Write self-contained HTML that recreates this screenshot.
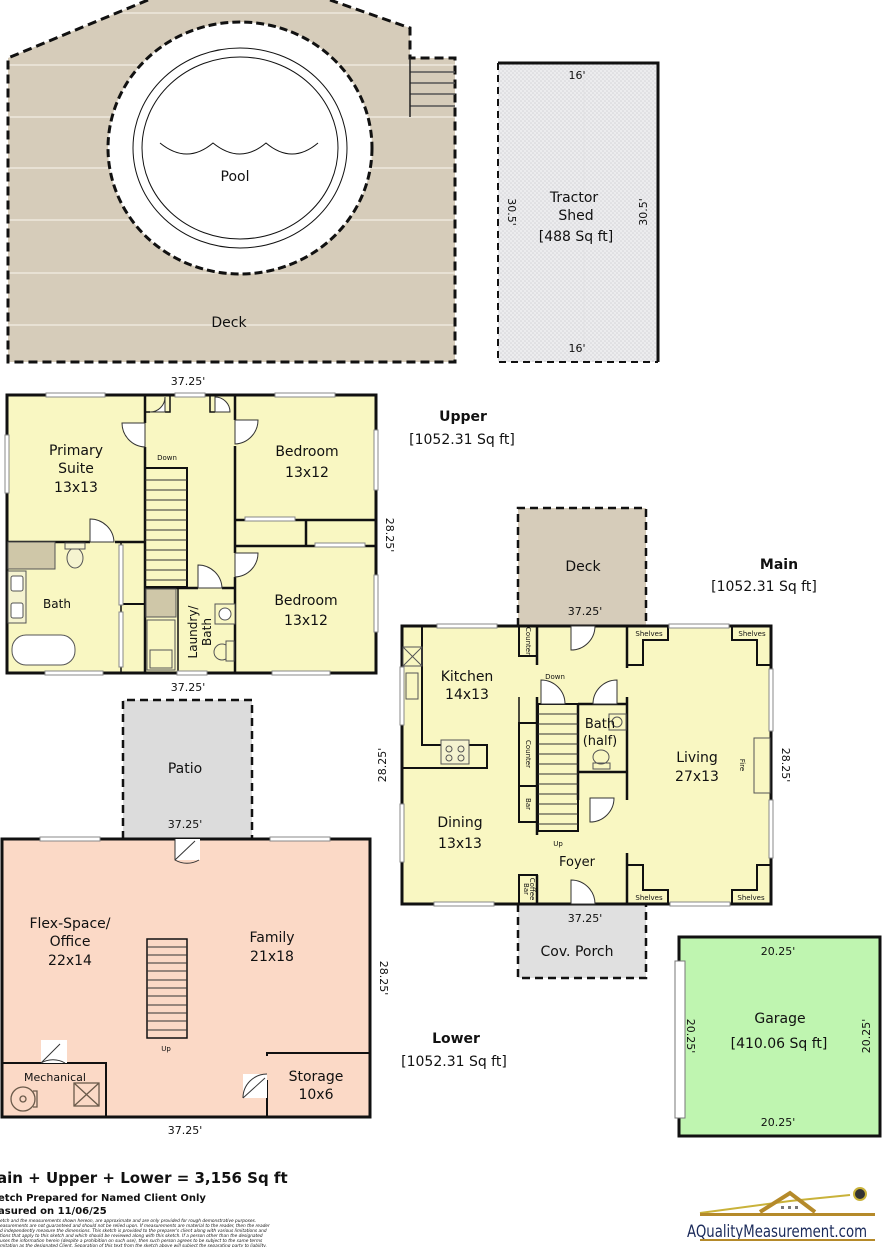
<!DOCTYPE html>
<html><head><meta charset="utf-8"><style>
html,body{margin:0;padding:0;background:#fff;}
svg{display:block;}
text{font-family:"DejaVu Sans","Liberation Sans",sans-serif;fill:#111;}
</style></head><body>
<svg width="882" height="1247" viewBox="0 0 882 1247" xmlns="http://www.w3.org/2000/svg">
<defs>
<pattern id="dots" width="4" height="4" patternUnits="userSpaceOnUse"><rect width="4" height="4" fill="#ececee"/><circle cx="1" cy="1" r="0.8" fill="#d4d4d8"/><circle cx="3" cy="3" r="0.8" fill="#d4d4d8"/></pattern>
<clipPath id="deckclip"><path d="M8,58 L148,0 L330,0 L410,28 L410,58 L455,58 L455,362 L8,362 Z"/></clipPath>
</defs>

<!-- POOL DECK -->
<path d="M8,58 L148,0 L330,0 L410,28 L410,58 L455,58 L455,362 L8,362 Z" fill="#d6ccba"/>
<g stroke="#eee8dc" stroke-width="1.5" clip-path="url(#deckclip)">
<line x1="8" y1="13" x2="455" y2="13"/><line x1="8" y1="65" x2="455" y2="65"/><line x1="8" y1="117" x2="455" y2="117"/><line x1="8" y1="168" x2="455" y2="168"/><line x1="8" y1="220" x2="455" y2="220"/><line x1="8" y1="273" x2="455" y2="273"/><line x1="8" y1="325" x2="455" y2="325"/>
</g>
<path d="M148,0 L8,58 L8,362 L455,362 L455,58 L410,58 L410,28 L330,0" fill="none" stroke="#111" stroke-width="3" stroke-dasharray="9,5"/>
<g stroke="#555" stroke-width="1.5"><line x1="410" y1="72" x2="455" y2="72"/><line x1="410" y1="83" x2="455" y2="83"/><line x1="410" y1="94" x2="455" y2="94"/><line x1="410" y1="106" x2="455" y2="106"/></g>
<line x1="410" y1="58" x2="410" y2="117" stroke="#222" stroke-width="1.5"/>
<ellipse cx="240" cy="148" rx="132" ry="126" fill="#fff" stroke="#111" stroke-width="3" stroke-dasharray="8,4"/>
<ellipse cx="240" cy="148" rx="107" ry="100" fill="none" stroke="#111" stroke-width="1"/>
<ellipse cx="240" cy="148" rx="98" ry="91" fill="none" stroke="#111" stroke-width="1"/>
<path d="M160,143 Q187,165 213,143 Q240,165 266,143 Q292,165 318,143" fill="none" stroke="#111" stroke-width="1"/>
<text x="235" y="181" font-size="14" text-anchor="middle">Pool</text>
<text x="229" y="327" font-size="14" text-anchor="middle">Deck</text>

<!-- TRACTOR SHED -->
<rect x="498" y="63" width="160" height="299" fill="url(#dots)"/>
<line x1="584" y1="63" x2="584" y2="362" stroke="#e4e4e6" stroke-width="1"/>
<path d="M498,63 L658,63 L658,362" fill="none" stroke="#111" stroke-width="3"/>
<path d="M498,63 L498,362 L658,362" fill="none" stroke="#111" stroke-width="2" stroke-dasharray="7,5"/>
<text x="577" y="79" font-size="11" text-anchor="middle">16'</text>
<text x="577" y="352" font-size="11" text-anchor="middle">16'</text>
<text x="574" y="202" font-size="14" text-anchor="middle">Tractor</text>
<text x="576" y="220" font-size="14" text-anchor="middle">Shed</text>
<text x="576" y="241" font-size="14" text-anchor="middle">[488 Sq ft]</text>
<text transform="translate(508,212) rotate(90)" font-size="11" text-anchor="middle">30.5'</text>
<text transform="translate(647,212) rotate(-90)" font-size="11" text-anchor="middle">30.5'</text>

<!-- UPPER -->
<rect x="7" y="395" width="369" height="278" fill="#f9f7c2"/>
<g stroke="#111" stroke-width="2.5" fill="none">
<rect x="7" y="395" width="369" height="278" stroke-width="3"/>
<line x1="145" y1="395" x2="145" y2="423"/><line x1="145" y1="447" x2="145" y2="673"/>
<line x1="235" y1="395" x2="235" y2="420"/><line x1="235" y1="446" x2="235" y2="553"/><line x1="235" y1="577" x2="235" y2="673"/>
<line x1="7" y1="542" x2="90" y2="542"/><line x1="115" y1="542" x2="145" y2="542"/>
<line x1="121" y1="542" x2="121" y2="673" stroke-width="1.5"/>
<line x1="121" y1="604" x2="145" y2="604" stroke-width="2"/>
<line x1="145" y1="588" x2="198" y2="588"/><line x1="222" y1="588" x2="235" y2="588"/>
<line x1="178" y1="588" x2="178" y2="673" stroke-width="1.5"/>
<line x1="235" y1="520" x2="376" y2="520"/><line x1="235" y1="546" x2="376" y2="546"/>
<line x1="306" y1="520" x2="306" y2="546"/>
<rect x="145" y="468" width="42" height="119" stroke-width="2"/>
<path d="M145,412 L150,412 M165,412 L170,412 L170,395" stroke-width="1.5"/>
<path d="M210,395 L210,412 L215,412" stroke-width="1.5"/>
</g>
<g stroke="#333" stroke-width="1">
<line x1="145" y1="480" x2="187" y2="480"/><line x1="145" y1="490" x2="187" y2="490"/><line x1="145" y1="500" x2="187" y2="500"/><line x1="145" y1="510" x2="187" y2="510"/><line x1="145" y1="520" x2="187" y2="520"/><line x1="145" y1="530" x2="187" y2="530"/><line x1="145" y1="540" x2="187" y2="540"/><line x1="145" y1="550" x2="187" y2="550"/><line x1="145" y1="560" x2="187" y2="560"/><line x1="145" y1="570" x2="187" y2="570"/><line x1="145" y1="580" x2="187" y2="580"/>
</g>
<g fill="#fff" stroke="#888" stroke-width="1">
<rect x="46" y="393" width="59" height="4"/><rect x="175" y="393" width="30" height="4"/><rect x="275" y="393" width="60" height="4"/>
<rect x="45" y="671" width="58" height="4"/><rect x="177" y="671" width="30" height="4"/><rect x="272" y="671" width="58" height="4"/>
<rect x="5" y="435" width="4" height="58"/><rect x="374" y="430" width="4" height="60"/><rect x="374" y="575" width="4" height="57"/>
<rect x="245" y="517" width="50" height="4"/><rect x="315" y="543" width="50" height="4"/>
<rect x="119" y="545" width="4" height="60"/><rect x="119" y="612" width="4" height="55"/>
</g>
<g fill="#fff" stroke="#333" stroke-width="1">
<path d="M145,423 L122,423 L122,423 A24,24 0 0 0 145,447 Z"/>
<path d="M90,542 L90,519 A24,24 0 0 1 114,542 Z"/>
<path d="M235,420 L258,420 A24,24 0 0 1 235,444 Z"/>
<path d="M235,553 L258,553 A24,24 0 0 1 235,577 Z"/>
<path d="M198,588 L198,565 A24,24 0 0 1 222,588 Z"/>
<path d="M165,412 L165,397 A15,15 0 0 1 150,412 Z"/>
<path d="M215,412 L215,397 A15,15 0 0 1 230,412 Z"/>
</g>
<g stroke="#555" stroke-width="1" fill="#fff">
<rect x="8" y="542" width="47" height="27" fill="#cfc7a8"/>
<rect x="8" y="571" width="18" height="52" fill="#f5f3d0"/><rect x="11" y="576" width="12" height="15" rx="2"/><rect x="11" y="603" width="12" height="15" rx="2"/>
<rect x="12" y="635" width="63" height="30" rx="14"/>
<ellipse cx="75" cy="558" rx="8" ry="10" fill="#f5f3d0"/><rect x="65" y="543" width="20" height="6" fill="#f5f3d0"/>
<rect x="146" y="589" width="30" height="28" fill="#cfc7a8"/>
<rect x="147" y="620" width="28" height="50" fill="#f9f7c2"/><rect x="150" y="650" width="22" height="18" fill="#f9f7c2"/>
<rect x="215" y="604" width="20" height="20" fill="#f9f7c2"/><circle cx="225" cy="614" r="6"/>
<ellipse cx="222" cy="652" rx="8" ry="8" fill="#f9f7c2"/><rect x="226" y="641" width="8" height="20" fill="#f9f7c2"/>
</g>
<g font-size="14" text-anchor="middle">
<text x="76" y="455">Primary</text><text x="76" y="473">Suite</text><text x="76" y="492">13x13</text>
<text x="307" y="456">Bedroom</text><text x="307" y="477">13x12</text>
<text x="306" y="605">Bedroom</text><text x="306" y="625">13x12</text>
<text x="57" y="608" font-size="12">Bath</text>
</g>
<text x="167" y="460" font-size="7" text-anchor="middle">Down</text>
<text transform="translate(197,632) rotate(-90)" font-size="12" text-anchor="middle">Laundry/</text>
<text transform="translate(211,632) rotate(-90)" font-size="12" text-anchor="middle">Bath</text>
<text x="188" y="385" font-size="11" text-anchor="middle">37.25'</text>
<text x="188" y="691" font-size="11" text-anchor="middle">37.25'</text>
<text transform="translate(386,535) rotate(90)" font-size="11" text-anchor="middle">28.25'</text>
<text x="463" y="421" font-size="14" font-weight="bold" text-anchor="middle">Upper</text>
<text x="462" y="444" font-size="14" text-anchor="middle">[1052.31 Sq ft]</text>

<!-- MAIN: deck & porch -->
<rect x="518" y="508" width="128" height="118" fill="#d6ccba"/>
<path d="M518,626 L518,508 L646,508 L646,626" fill="none" stroke="#111" stroke-width="2.5" stroke-dasharray="8,5"/>
<text x="583" y="571" font-size="14" text-anchor="middle">Deck</text>
<text x="585" y="615" font-size="11" text-anchor="middle">37.25'</text>
<rect x="518" y="904" width="128" height="74" fill="#e0e0e0"/>
<path d="M518,904 L518,978 L646,978 L646,904" fill="none" stroke="#111" stroke-width="2.5" stroke-dasharray="8,5"/>
<text x="577" y="956" font-size="14" text-anchor="middle">Cov. Porch</text>
<text x="585" y="922" font-size="11" text-anchor="middle">37.25'</text>

<!-- MAIN floor -->
<rect x="402" y="626" width="369" height="278" fill="#f9f7c2"/>
<g stroke="#111" stroke-width="2.5" fill="none">
<rect x="402" y="626" width="369" height="278" stroke-width="3"/>
<line x1="537" y1="626" x2="537" y2="665"/><line x1="537" y1="697" x2="537" y2="835"/><line x1="537" y1="875" x2="537" y2="904"/>
<line x1="627" y1="626" x2="627" y2="668"/><line x1="627" y1="697" x2="627" y2="800"/><line x1="627" y1="853" x2="627" y2="904"/>
<rect x="538" y="704" width="40" height="127" stroke-width="2"/>
<line x1="578" y1="704" x2="627" y2="704"/><line x1="578" y1="772" x2="627" y2="772"/><line x1="578" y1="704" x2="578" y2="800"/>
<path d="M422,626 L422,745 L487,745 L487,768 L402,768" stroke-width="2"/>
<rect x="519" y="626" width="18" height="30" stroke-width="2"/>
<rect x="519" y="723" width="18" height="63" stroke-width="2"/>
<rect x="519" y="786" width="18" height="36" stroke-width="2"/>
<rect x="519" y="875" width="18" height="29" stroke-width="2"/>
<line x1="519" y1="697" x2="519" y2="723" stroke-width="1.5"/>
<path d="M627,665 L643,665 L643,640 L668,640 L668,626" stroke-width="2"/>
<path d="M771,665 L757,665 L757,640 L732,640 L732,626" stroke-width="2"/>
<path d="M627,865 L643,865 L643,890 L668,890 L668,904" stroke-width="2"/>
<path d="M771,865 L757,865 L757,890 L732,890 L732,904" stroke-width="2"/>
</g>
<g stroke="#333" stroke-width="1">
<line x1="538" y1="714" x2="578" y2="714"/><line x1="538" y1="724" x2="578" y2="724"/><line x1="538" y1="734" x2="578" y2="734"/><line x1="538" y1="744" x2="578" y2="744"/><line x1="538" y1="754" x2="578" y2="754"/><line x1="538" y1="764" x2="578" y2="764"/><line x1="538" y1="774" x2="578" y2="774"/><line x1="538" y1="784" x2="578" y2="784"/><line x1="538" y1="794" x2="578" y2="794"/><line x1="538" y1="804" x2="578" y2="804"/><line x1="538" y1="814" x2="578" y2="814"/><line x1="538" y1="824" x2="578" y2="824"/>
</g>
<g fill="#fff" stroke="#888" stroke-width="1">
<rect x="437" y="624" width="60" height="4"/><rect x="669" y="624" width="60" height="4"/>
<rect x="434" y="902" width="60" height="4"/><rect x="670" y="902" width="60" height="4"/>
<rect x="400" y="667" width="4" height="58"/><rect x="400" y="804" width="4" height="58"/>
<rect x="769" y="669" width="4" height="62"/><rect x="769" y="800" width="4" height="58"/>
</g>
<g fill="#fff" stroke="#333" stroke-width="1">
<path d="M571,626 L571,650 A24,24 0 0 0 595,626 Z"/>
<path d="M571,904 L571,880 A24,24 0 0 1 595,904 Z"/>
<path d="M541,704 L541,680 A24,24 0 0 1 565,704 Z"/>
<path d="M617,704 L617,680 A24,24 0 0 0 593,704 Z"/>
<path d="M590,798 L614,798 A24,24 0 0 1 590,822 Z"/>
</g>
<g stroke="#555" stroke-width="1" fill="none">
<rect x="403" y="647" width="19" height="19"/><line x1="403" y1="647" x2="422" y2="666"/><line x1="422" y1="647" x2="403" y2="666"/>
<rect x="406" y="673" width="12" height="26"/>
<rect x="441" y="740" width="28" height="24" fill="#f5f3d0"/>
<circle cx="449" cy="749" r="3"/><circle cx="461" cy="749" r="3"/><circle cx="449" cy="758" r="3"/><circle cx="461" cy="758" r="3"/>
<rect x="609" y="714" width="17" height="16"/><circle cx="617" cy="722" r="5"/>
<ellipse cx="601" cy="757" rx="8" ry="7"/><rect x="593" y="763" width="17" height="6"/>
<rect x="754" y="738" width="16" height="55"/>
</g>
<g font-size="14" text-anchor="middle">
<text x="467" y="681">Kitchen</text><text x="467" y="699">14x13</text>
<text x="460" y="827">Dining</text><text x="460" y="848">13x13</text>
<text x="697" y="762">Living</text><text x="697" y="781">27x13</text>
<text x="600" y="728" font-size="13">Bath</text><text x="600" y="745" font-size="13">(half)</text>
<text x="577" y="866" font-size="13">Foyer</text>
</g>
<g font-size="7" text-anchor="middle">
<text x="555" y="679">Down</text><text x="558" y="846">Up</text>
<text x="649" y="636">Shelves</text><text x="752" y="636">Shelves</text>
<text x="649" y="900">Shelves</text><text x="751" y="900">Shelves</text>
<text transform="translate(740,765) rotate(90)">Fire</text>
<text transform="translate(526,641) rotate(90)">Counter</text>
<text transform="translate(526,754) rotate(90)">Counter</text>
<text transform="translate(526,804) rotate(90)">Bar</text>
<text transform="translate(530,889) rotate(90)">Coffee</text>
<text transform="translate(524,889) rotate(90)">Bar</text>
</g>
<text transform="translate(386,765) rotate(-90)" font-size="11" text-anchor="middle">28.25'</text>
<text transform="translate(782,765) rotate(90)" font-size="11" text-anchor="middle">28.25'</text>
<text x="779" y="569" font-size="14" font-weight="bold" text-anchor="middle">Main</text>
<text x="764" y="591" font-size="14" text-anchor="middle">[1052.31 Sq ft]</text>

<!-- GARAGE -->
<rect x="679" y="937" width="201" height="199" fill="#bff5b0" stroke="#111" stroke-width="3"/>
<rect x="675" y="961" width="10" height="157" fill="#fff" stroke="#777" stroke-width="1"/>
<text x="778" y="955" font-size="11" text-anchor="middle">20.25'</text>
<text x="778" y="1126" font-size="11" text-anchor="middle">20.25'</text>
<text transform="translate(687,1036) rotate(90)" font-size="11" text-anchor="middle">20.25'</text>
<text transform="translate(870,1036) rotate(-90)" font-size="11" text-anchor="middle">20.25'</text>
<text x="780" y="1023" font-size="14" text-anchor="middle">Garage</text>
<text x="779" y="1048" font-size="14" text-anchor="middle">[410.06 Sq ft]</text>

<!-- PATIO -->
<rect x="123" y="700" width="129" height="139" fill="#dcdcdc"/>
<path d="M123,839 L123,700 L252,700 L252,839" fill="none" stroke="#111" stroke-width="2.5" stroke-dasharray="8,5"/>
<text x="185" y="773" font-size="14" text-anchor="middle">Patio</text>
<text x="185" y="828" font-size="11" text-anchor="middle">37.25'</text>

<!-- LOWER -->
<rect x="2" y="839" width="368" height="278" fill="#fbd9c6"/>
<g stroke="#111" stroke-width="2.5" fill="none">
<rect x="2" y="839" width="368" height="278" stroke-width="3"/>
<path d="M2,1063 L106,1063 L106,1117" stroke-width="2"/>
<path d="M267,1117 L267,1080 M267,1056 L267,1053 L370,1053" stroke-width="2"/>
<rect x="147" y="939" width="40" height="99" stroke-width="1.5"/>
</g>
<g stroke="#333" stroke-width="1">
<line x1="147" y1="947" x2="187" y2="947"/><line x1="147" y1="955" x2="187" y2="955"/><line x1="147" y1="963" x2="187" y2="963"/><line x1="147" y1="971" x2="187" y2="971"/><line x1="147" y1="980" x2="187" y2="980"/><line x1="147" y1="988" x2="187" y2="988"/><line x1="147" y1="996" x2="187" y2="996"/><line x1="147" y1="1005" x2="187" y2="1005"/><line x1="147" y1="1013" x2="187" y2="1013"/><line x1="147" y1="1021" x2="187" y2="1021"/><line x1="147" y1="1030" x2="187" y2="1030"/>
</g>
<g fill="#fff" stroke="#888" stroke-width="1">
<rect x="40" y="837" width="60" height="4"/><rect x="270" y="837" width="60" height="4"/>
</g>
<g fill="#fff" stroke="#333" stroke-width="1">
<path d="M175,839 L175,860 L200,860 L200,839 Z" stroke="none"/>
<path d="M175,839 L175,860 A24,24 0 0 0 199,860" fill="none"/><line x1="175" y1="860" x2="195" y2="841"/>
<path d="M41,1063 L41,1040 L67,1040 L67,1063 Z" stroke="none"/>
<path d="M41,1063 A24,24 0 0 1 65,1063" fill="none"/><line x1="41" y1="1063" x2="60" y2="1044"/>
<path d="M243,1074 L267,1074 L267,1098 L243,1098 Z" stroke="none"/>
<path d="M243,1098 A24,24 0 0 1 267,1074" fill="none"/><line x1="243" y1="1098" x2="265" y2="1078"/>
</g>
<g stroke="#6a5a4a" stroke-width="1.3" fill="none">
<circle cx="23" cy="1099" r="12"/><circle cx="23" cy="1099" r="3"/><path d="M33,1091 L37,1091 L37,1107 L33,1107"/>
<rect x="74" y="1083" width="25" height="23"/><line x1="74" y1="1083" x2="99" y2="1106"/><line x1="99" y1="1083" x2="74" y2="1106"/>
</g>
<g font-size="14" text-anchor="middle">
<text x="70" y="928">Flex-Space/</text><text x="70" y="946">Office</text><text x="70" y="965">22x14</text>
<text x="272" y="942">Family</text><text x="272" y="961">21x18</text>
<text x="316" y="1081">Storage</text><text x="316" y="1099">10x6</text>
<text x="55" y="1081" font-size="11">Mechanical</text>
</g>
<text x="166" y="1051" font-size="7" text-anchor="middle">Up</text>
<text x="185" y="1134" font-size="11" text-anchor="middle">37.25'</text>
<text transform="translate(380,978) rotate(90)" font-size="11" text-anchor="middle">28.25'</text>
<text x="456" y="1043" font-size="14" font-weight="bold" text-anchor="middle">Lower</text>
<text x="454" y="1066" font-size="14" text-anchor="middle">[1052.31 Sq ft]</text>

<!-- FOOTER -->
<text x="-3" y="1183" font-size="15" font-weight="bold">ain + Upper + Lower = 3,156 Sq ft</text>
<text x="-2" y="1201" font-size="10" font-weight="bold">etch Prepared for Named Client Only</text>
<text x="-2" y="1214" font-size="10" font-weight="bold">asured on 11/06/25</text>
<g font-size="4.3" font-style="italic">
<text x="0" y="1222">etch and the measurements shown hereon, are approximate and are only provided for rough demonstrative purposes.</text>
<text x="0" y="1227">easurements are not guaranteed and should not be relied upon.  If measurements are material to the reader, then the reader</text>
<text x="0" y="1232">d independently measure the dimensions.  This sketch is provided to the preparer's client along with various limitations and</text>
<text x="0" y="1237">tions that apply to this sketch and which should be reviewed along with this sketch.  If a person other than the designated</text>
<text x="0" y="1242">uses the information herein (despite a prohibition on such use), then such person agrees to be subject to the same terms</text>
<text x="0" y="1247">mitation as the designated Client.  Separation of this text from the sketch above will subject the separating party to liability.</text>
</g>
<path d="M700,1213 L790,1201 L850,1195" stroke="#c9b23a" stroke-width="2" fill="none"/>
<path d="M760,1212 L790,1193 L815,1212" stroke="#b58a2a" stroke-width="4" fill="none"/>
<circle cx="860" cy="1194" r="6" fill="#333" stroke="#c9b23a" stroke-width="2"/>
<rect x="700" y="1213" width="175" height="3" fill="#b58a2a"/>
<rect x="781" y="1206" width="3" height="3" fill="#777"/><rect x="788" y="1206" width="3" height="3" fill="#777"/><rect x="795" y="1206" width="3" height="3" fill="#777"/>
<text x="777" y="1237" font-size="17" text-anchor="middle" style="fill:#1a2a5a" textLength="180" lengthAdjust="spacingAndGlyphs">AQualityMeasurement.com</text>
<rect x="700" y="1239" width="175" height="2" fill="#b58a2a"/>
</svg>
</body></html>
